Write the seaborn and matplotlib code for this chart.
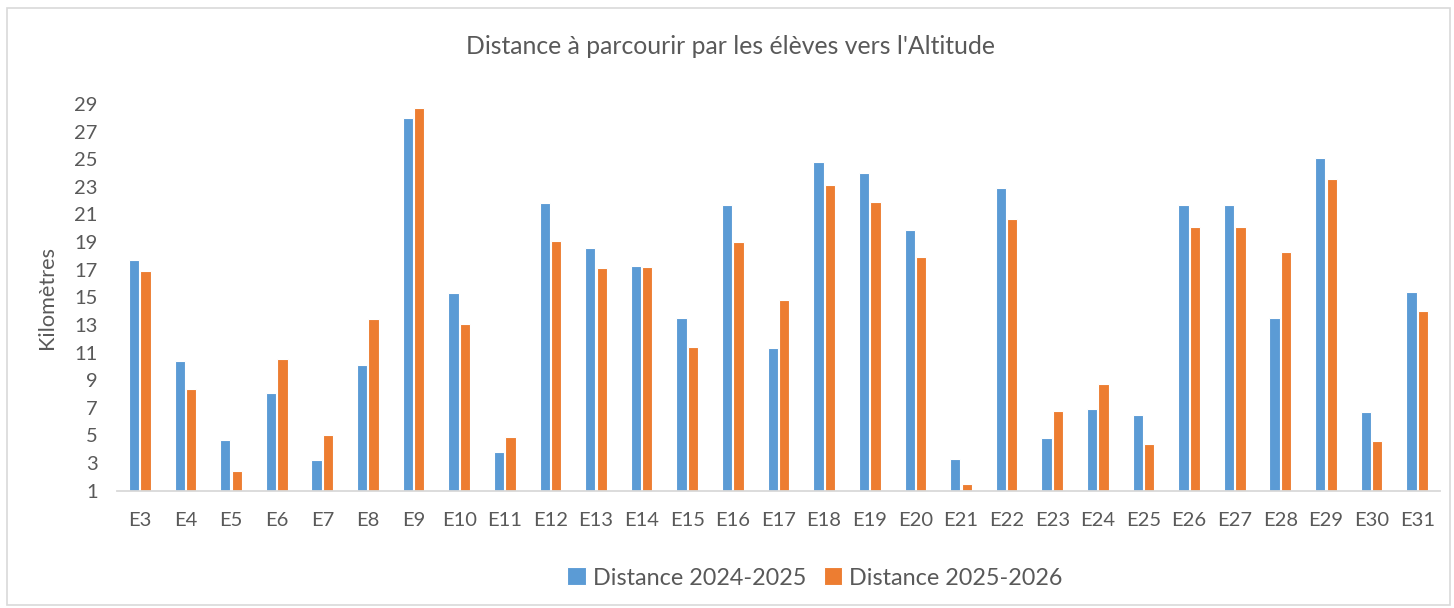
import matplotlib
matplotlib.use("Agg")
import matplotlib.pyplot as plt
import seaborn as sns
import pandas as pd
import numpy as np
from matplotlib.patches import Rectangle

categories = ["E3", "E4", "E5", "E6", "E7", "E8", "E9", "E10", "E11", "E12", "E13", "E14",
              "E15", "E16", "E17", "E18", "E19", "E20", "E21", "E22", "E23", "E24", "E25",
              "E26", "E27", "E28", "E29", "E30", "E31"]
dist_2024_2025 = [17.7, 10.4, 4.7, 8.1, 3.2, 10.1, 28.0, 15.3, 3.8, 21.8, 18.6, 17.3,
                  13.5, 21.7, 11.3, 24.8, 24.0, 19.9, 3.3, 22.9, 4.8, 6.9, 6.5,
                  21.7, 21.7, 13.5, 25.1, 6.7, 15.4]
dist_2025_2026 = [16.9, 8.4, 2.4, 10.5, 5.0, 13.4, 28.7, 13.1, 4.9, 19.1, 17.1, 17.2,
                  11.4, 19.0, 14.8, 23.1, 21.9, 17.9, 1.5, 20.7, 6.8, 8.7, 4.4,
                  20.1, 20.1, 18.3, 23.6, 4.6, 14.0]
series_names = ["Distance 2024-2025", "Distance 2025-2026"]
yticks = list(range(1, 30, 2))

title = "Distance à parcourir par les élèves vers l'Altitude"
ylabel = "Kilomètres"

df = pd.DataFrame({
    "Élève": categories * 2,
    "Distance": dist_2024_2025 + dist_2025_2026,
    "Série": [series_names[0]] * len(categories) + [series_names[1]] * len(categories),
})

sns.set_theme(style="white")
plt.rcParams["font.family"] = ["Lato", "DejaVu Sans"]
text_color = "#595959"

fig = plt.figure(figsize=(14.54, 6.08), dpi=100)
ax = fig.add_axes([117 / 1454, 1 - 490.7 / 608, (1440 - 117) / 1454, (490.7 - 104) / 608])

sns.barplot(data=df, x="Élève", y="Distance", hue="Série", order=categories,
            hue_order=series_names, palette=["#5B9BD5", "#ED7D31"], saturation=1,
            width=0.5, gap=0.1, linewidth=0.8, edgecolor="white",
            ax=ax, legend=True)

ax.set_ylim(1, 29)
ax.set_yticks(yticks)
ax.set_xlim(-0.5, len(categories) - 0.5)
ax.set_xlabel("")
ax.set_ylabel(ylabel, fontsize=15.6, color=text_color, labelpad=12)

for s in ["top", "right", "left"]:
    ax.spines[s].set_visible(False)
ax.spines["bottom"].set_color("#D9D9D9")
ax.spines["bottom"].set_linewidth(1.3)

ax.tick_params(axis="y", length=0, labelsize=14.5, labelcolor=text_color, pad=14)
ax.tick_params(axis="x", which="major", length=0, labelsize=14.5, labelcolor=text_color, pad=15)
ax.set_xticks(np.arange(-0.5, len(categories), 1), minor=True)
ax.tick_params(axis="x", which="minor", length=7, width=1.3, color="#D9D9D9", direction="out")

fig.suptitle(title, x=730 / 1454, y=1 - 47 / 608, va="center",
             fontsize=17.8, color=text_color)

leg = ax.legend(loc="center", bbox_to_anchor=(815 / 1454, 1 - 578 / 608),
                bbox_transform=fig.transFigure, ncol=2, frameon=False,
                fontsize=16.8, handlelength=0.8, handleheight=0.8,
                handletextpad=0.3, columnspacing=0.75)
for t in leg.get_texts():
    t.set_color(text_color)

fig.patches.append(Rectangle((7 / 1454, 1 - 605 / 608), (1450 - 7) / 1454, (605 - 8) / 608,
                             transform=fig.transFigure, fill=False,
                             edgecolor="#D9D9D9", linewidth=1.2))

fig.savefig("out.png", dpi=100, facecolor="white")
